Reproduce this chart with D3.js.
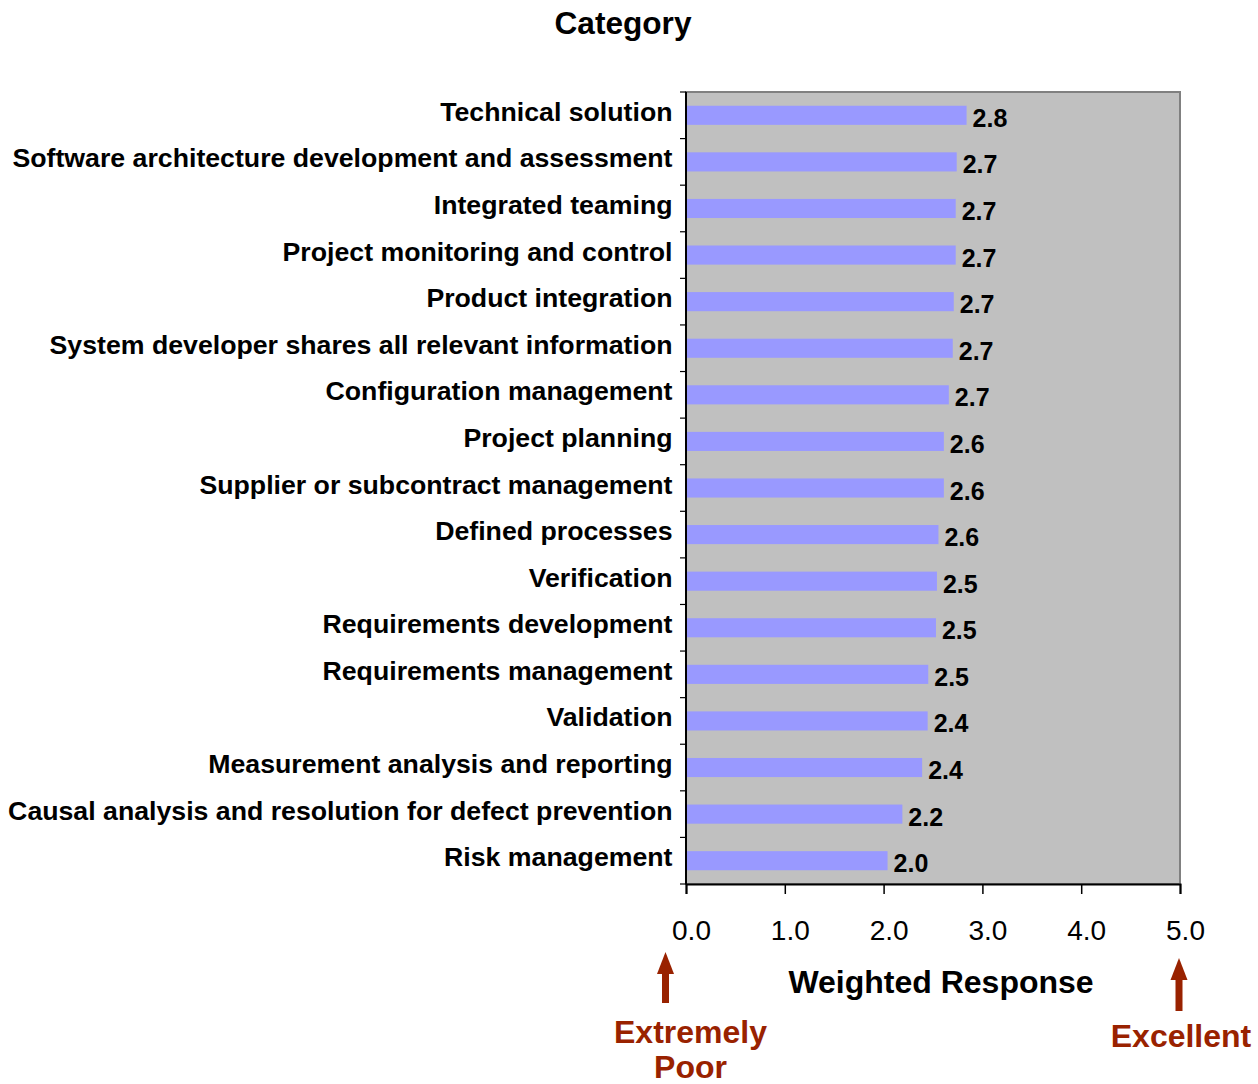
<!DOCTYPE html>
<html>
<head>
<meta charset="utf-8">
<script src="https://cdn.jsdelivr.net/npm/d3@7"></script>
<style>
  html, body { margin: 0; padding: 0; background: #ffffff; }
  svg { display: block; font-family: "Liberation Sans", Arial, sans-serif; }
</style>
</head>
<body>
<svg id="chart" width="1258" height="1084"></svg>
<script>
// Survey categories, top to bottom
const categories = [
  "Technical solution",
  "Software architecture development and assessment",
  "Integrated teaming",
  "Project monitoring and control",
  "Product integration",
  "System developer shares all relevant information",
  "Configuration management",
  "Project planning",
  "Supplier or subcontract management",
  "Defined processes",
  "Verification",
  "Requirements development",
  "Requirements management",
  "Validation",
  "Measurement analysis and reporting",
  "Causal analysis and resolution for defect prevention",
  "Risk management"
];

// Weighted response per category (0 = extremely poor, 5 = excellent)
const weightedResponse = [
  2.84, 2.74, 2.73, 2.73, 2.71, 2.70, 2.66, 2.61, 2.61,
  2.555, 2.54, 2.53, 2.452, 2.446, 2.39, 2.19, 2.04
];

const xTicks = [0, 1, 2, 3, 4, 5];

const svg = d3.select("#chart");

const plot = { left: 686, right: 1180, top: 92, bottom: 884 };

const x = d3.scaleLinear().domain([0, 5]).range([plot.left, plot.right]);
const y = d3.scaleBand().domain(categories).range([plot.top, plot.bottom]).paddingInner(0.59).paddingOuter(0.295);
const yGrid = d3.scaleBand().domain(categories).range([plot.top, plot.bottom]);

// plot area
svg.append("rect")
  .attr("x", plot.left).attr("y", plot.top)
  .attr("width", plot.right - plot.left).attr("height", plot.bottom - plot.top)
  .attr("fill", "#c0c0c0")
  .attr("stroke", "#808080").attr("stroke-width", 2);

// bars
svg.append("g").selectAll("rect")
  .data(categories)
  .join("rect")
  .attr("x", x(0))
  .attr("y", d => y(d))
  .attr("width", (d, i) => x(weightedResponse[i]) - x(0))
  .attr("height", y.bandwidth())
  .attr("fill", "#9999ff");

// value labels
const fmt = d3.format(".1f");
svg.append("g").selectAll("text")
  .data(categories)
  .join("text")
  .attr("x", (d, i) => x(weightedResponse[i]) + 6)
  .attr("y", d => yGrid(d) + yGrid.bandwidth() / 2 + 11.5)
  .attr("font-size", 25)
  .attr("font-weight", "bold")
  .attr("fill", "#000")
  .text((d, i) => fmt(weightedResponse[i]));

// y axis (category axis) with ticks at band boundaries
const yAxisG = svg.append("g");
yAxisG.append("line")
  .attr("x1", plot.left).attr("x2", plot.left)
  .attr("y1", plot.top).attr("y2", plot.bottom)
  .attr("stroke", "#000").attr("stroke-width", 2);
yAxisG.selectAll("line.tick")
  .data(categories.concat(["__end"]))
  .join("line")
  .attr("class", "tick")
  .attr("x1", plot.left - 6).attr("x2", plot.left)
  .attr("y1", (d, i) => i < categories.length ? yGrid(d) : plot.bottom)
  .attr("y2", (d, i) => i < categories.length ? yGrid(d) : plot.bottom)
  .attr("stroke", "#000").attr("stroke-width", 1.2);
yAxisG.selectAll("text")
  .data(categories)
  .join("text")
  .attr("x", plot.left - 13.5)
  .attr("y", d => yGrid(d) + yGrid.bandwidth() / 2 + 5.5)
  .attr("text-anchor", "end")
  .attr("font-size", 26.7)
  .attr("font-weight", "bold")
  .attr("fill", "#000")
  .text(d => d);

// x axis
const xAxis = d3.axisBottom(x)
  .tickValues(xTicks)
  .tickSize(10)
  .tickPadding(0)
  .tickFormat(d3.format(".1f"));
const xAxisG = svg.append("g")
  .attr("transform", `translate(0,${plot.bottom})`)
  .call(xAxis);
xAxisG.select(".domain").attr("stroke", "#000").attr("stroke-width", 2);
xAxisG.selectAll(".tick line").attr("stroke", "#000").attr("stroke-width", 1.5);
xAxisG.selectAll(".tick text")
  .attr("font-family", "Liberation Sans, Arial, sans-serif")
  .attr("font-size", 28)
  .attr("fill", "#000")
  .attr("dy", null)
  .attr("y", 55.5)
  .attr("dx", 5);

// titles
svg.append("text")
  .attr("x", 623).attr("y", 34)
  .attr("text-anchor", "middle")
  .attr("font-size", 31.6)
  .attr("font-weight", "bold")
  .text("Category");

svg.append("text")
  .attr("x", 941).attr("y", 993)
  .attr("text-anchor", "middle")
  .attr("font-size", 32)
  .attr("font-weight", "bold")
  .text("Weighted Response");

// scale anchors: arrows and captions
const anchorColor = "#992200";
function arrow(cx, tipY, baseY) {
  const g = svg.append("g").attr("fill", anchorColor);
  g.append("rect").attr("x", cx - 3.5).attr("y", tipY + 18).attr("width", 7).attr("height", baseY - tipY - 18);
  g.append("path").attr("d", `M${cx},${tipY} L${cx - 8.5},${tipY + 22} L${cx + 8.5},${tipY + 22} Z`);
}
arrow(665.5, 952, 1003);
arrow(1179, 958, 1011);

svg.append("text")
  .attr("x", 690.5).attr("y", 1043)
  .attr("text-anchor", "middle")
  .attr("font-size", 32).attr("font-weight", "bold")
  .attr("fill", anchorColor)
  .text("Extremely");
svg.append("text")
  .attr("x", 690.5).attr("y", 1078)
  .attr("text-anchor", "middle")
  .attr("font-size", 32).attr("font-weight", "bold")
  .attr("fill", anchorColor)
  .text("Poor");
svg.append("text")
  .attr("x", 1181).attr("y", 1047)
  .attr("text-anchor", "middle")
  .attr("font-size", 32).attr("font-weight", "bold")
  .attr("fill", anchorColor)
  .text("Excellent");
</script>
</body>
</html>
